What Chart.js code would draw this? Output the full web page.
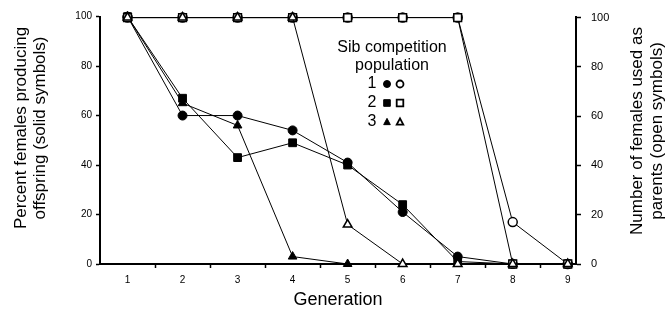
<!DOCTYPE html>
<html>
<head>
<meta charset="utf-8">
<script src="https://cdn.jsdelivr.net/npm/chart.js@4.4.1/dist/chart.umd.min.js"></script>
<style>
  html, body { margin: 0; padding: 0; background: #fff; }
  canvas { display: block; }
</style>
</head>
<body>
<canvas id="chart" width="666" height="320"></canvas>
<script>
const generations = [1, 2, 3, 4, 5, 6, 7, 8, 9];
const leftTicks = [0, 20, 40, 60, 80, 100];
const rightTicks = [0, 20, 40, 60, 80, 100];

// percent females producing offspring (solid symbols, left axis)
const pop1Solid = [100, 60, 60, 54, 41, 21, 3, 0, 0];
const pop2Solid = [100, 67, 43, 49, 40, 24, 1, 0, 0];
const pop3Solid = [100, 65, 56, 3, 0, null, null, null, null];

// number of females used as parents (open symbols, right axis)
const pop1Open = [100, 100, 100, 100, 100, 100, 100, 17, 0];
const pop2Open = [100, 100, 100, 100, 100, 100, 100, 0, 0];
const pop3Open = [100, 100, 100, 100, 16, 0, 0, 0, 0];

const FONT = '"Liberation Sans", Arial, sans-serif';

function pts(values) {
  return generations.map((g, i) => ({ x: g, y: values[i] }));
}

function series(values, axis, style, radius, open) {
  return {
    data: pts(values),
    yAxisID: axis,
    borderColor: '#000',
    borderWidth: 1,
    pointStyle: style,
    pointRadius: radius,
    pointHoverRadius: radius,
    pointBackgroundColor: open ? '#fff' : '#000',
    pointBorderColor: '#000',
    pointBorderWidth: open ? 1.5 : 1,
    tension: 0,
    clip: false,
    spanGaps: false
  };
}

function drawSymbol(ctx, style, x, y, r, open) {
  ctx.save();
  ctx.fillStyle = open ? '#fff' : '#000';
  ctx.strokeStyle = '#000';
  ctx.lineWidth = open ? 1.8 : 1;
  ctx.beginPath();
  if (style === 'circle') {
    ctx.arc(x, y, r, 0, Math.PI * 2);
  } else if (style === 'rect') {
    ctx.rect(x - r, y - r, r * 2, r * 2);
  } else {
    ctx.moveTo(x, y - r * 1.1);
    ctx.lineTo(x + r, y + r * 0.8);
    ctx.lineTo(x - r, y + r * 0.8);
    ctx.closePath();
  }
  ctx.fill();
  ctx.stroke();
  ctx.restore();
}

const textPlugin = {
  id: 'textPlugin',
  afterDraw(chart) {
    const ctx = chart.ctx;
    ctx.save();
    ctx.fillStyle = '#000';
    ctx.textAlign = 'center';
    ctx.textBaseline = 'middle';

    // y axis titles (both read bottom to top)
    ctx.font = '17px ' + FONT;
    ctx.save();
    ctx.translate(21, 128);
    ctx.rotate(-Math.PI / 2);
    ctx.fillText('Percent females producing', 0, 0);
    ctx.fillText('offspring (solid symbols)', 0, 19);
    ctx.restore();

    ctx.save();
    ctx.translate(637, 131);
    ctx.rotate(-Math.PI / 2);
    ctx.fillText('Number of females used as', 0, 0);
    ctx.fillText('parents (open symbols)', 0, 20);
    ctx.restore();

    // legend
    ctx.font = '16px ' + FONT;
    ctx.fillText('Sib competition', 392, 48);
    ctx.fillText('population', 392, 66);
    const rows = [['1', 'circle'], ['2', 'rect'], ['3', 'triangle']];
    rows.forEach((row, i) => {
      const y = 84 + i * 19;
      ctx.fillText(row[0], 372, y);
      drawSymbol(ctx, row[1], 387, y, row[1] === 'circle' ? 3.5 : 3.3, false);
      drawSymbol(ctx, row[1], 400, y, row[1] === 'circle' ? 3.5 : 3.3, true);
    });
    ctx.restore();
  }
};

const ctx = document.getElementById('chart').getContext('2d');
const chart = new Chart(ctx, {
  type: 'line',
  data: {
    datasets: [
      series(pop3Open, 'y2', 'triangle', 5, true),
      series(pop2Open, 'y2', 'rect', 5.5, true),
      series(pop1Open, 'y2', 'circle', 4.5, true),
      series(pop3Solid, 'y', 'triangle', 5, false),
      series(pop2Solid, 'y', 'rect', 5.5, false),
      series(pop1Solid, 'y', 'circle', 4.5, false)
    ]
  },
  options: {
    responsive: false,
    animation: false,
    devicePixelRatio: 1,
    layout: { padding: { top: 13, left: 0, right: 0, bottom: 0 } },
    plugins: { legend: { display: false }, tooltip: { enabled: false } },
    scales: {
      x: {
        type: 'linear',
        min: 0.5,
        max: 9.15,
        afterBuildTicks: (scale) => {
          const t = [];
          generations.forEach(g => { t.push({ value: g }); if (g < 9) t.push({ value: g + 0.5 }); });
          scale.ticks = t;
        },
        afterFit: (scale) => { scale.height = 56; },
        border: { display: true, color: '#000', width: 2 },
        grid: {
          drawOnChartArea: false,
          drawTicks: true,
          tickLength: 4,
          tickWidth: 1.5,
          tickColor: (c) => (c.tick && c.tick.value % 1 !== 0) ? '#000' : 'rgba(0,0,0,0)'
        },
        ticks: {
          autoSkip: false,
          maxRotation: 0,
          padding: 6,
          color: '#000',
          font: { family: FONT, size: 10 },
          callback: (v) => (v % 1 === 0 ? String(v) : '')
        },
        title: {
          display: true,
          text: 'Generation',
          color: '#000',
          font: { family: FONT, size: 18 },
          padding: { top: 0, bottom: 9 }
        }
      },
      y: {
        position: 'left',
        min: 0,
        max: 100,
        afterBuildTicks: (scale) => { scale.ticks = leftTicks.map(v => ({ value: v })); },
        afterFit: (scale) => { scale.width = 100; },
        border: { display: true, color: '#000', width: 2 },
        grid: { drawOnChartArea: false, drawTicks: true, tickLength: 4, tickWidth: 1.5, tickColor: '#000' },
        ticks: { padding: 4, color: '#000', font: { family: FONT, size: 10 } }
      },
      y2: {
        position: 'right',
        min: 0,
        max: 100.4,
        afterBuildTicks: (scale) => { scale.ticks = rightTicks.map(v => ({ value: v })); },
        afterFit: (scale) => { scale.width = 90; },
        border: { display: true, color: '#000', width: 2 },
        grid: { drawOnChartArea: false, drawTicks: true, tickLength: 5, tickWidth: 1.5, tickColor: '#000' },
        ticks: { padding: 10, color: '#000', font: { family: FONT, size: 11 } }
      }
    }
  },
  plugins: [textPlugin]
});
</script>
</body>
</html>
